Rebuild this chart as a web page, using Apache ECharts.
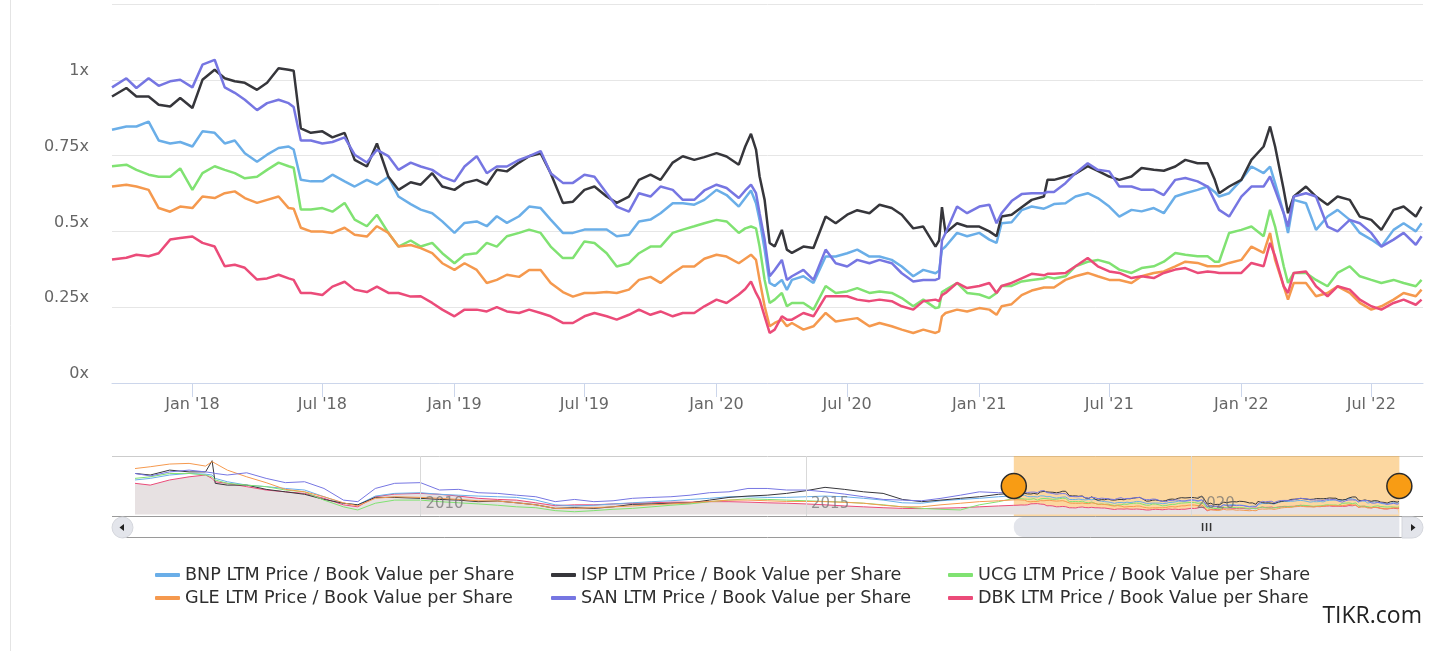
<!DOCTYPE html>
<html lang="en">
<head>
<meta charset="utf-8">
<title>LTM Price / Book Value per Share</title>
<script src="https://cdn.jsdelivr.net/npm/echarts@6/dist/echarts.min.js"></script>
<style>
  html, body { margin: 0; padding: 0; background: #fff; }
  #main { width: 1453px; height: 651px; }
</style>
</head>
<body>
<div id="main"></div>
<script type="text/javascript">

// visible window (semi-monthly readings, extra points around sharp moves)
var dates = [
  '2017-09-11','2017-10-01','2017-10-15','2017-11-01','2017-11-15','2017-12-01','2017-12-15',
  '2018-01-01','2018-01-15','2018-02-01','2018-02-15','2018-03-01','2018-03-15','2018-04-01','2018-04-15',
  '2018-05-01','2018-05-15','2018-05-22','2018-06-01','2018-06-15','2018-07-01','2018-07-15','2018-08-01',
  '2018-08-15','2018-09-01','2018-09-15','2018-10-01','2018-10-15','2018-11-01','2018-11-15','2018-12-01',
  '2018-12-15','2019-01-01','2019-01-15','2019-02-01','2019-02-15','2019-03-01','2019-03-15','2019-04-01',
  '2019-04-15','2019-05-01','2019-05-15','2019-06-01','2019-06-15','2019-07-01','2019-07-15','2019-08-01',
  '2019-08-15','2019-09-01','2019-09-15','2019-10-01','2019-10-15','2019-11-01','2019-11-15','2019-12-01',
  '2019-12-15','2020-01-01','2020-01-15','2020-02-01','2020-02-10','2020-02-18','2020-02-25','2020-03-01',
  '2020-03-08','2020-03-15','2020-03-22','2020-04-01','2020-04-08','2020-04-15','2020-05-01','2020-05-15',
  '2020-06-01','2020-06-15','2020-07-01','2020-07-15','2020-08-01','2020-08-15','2020-09-01','2020-09-15',
  '2020-10-01','2020-10-15','2020-11-01','2020-11-06','2020-11-10','2020-11-15','2020-12-01','2020-12-15',
  '2021-01-01','2021-01-15','2021-01-25','2021-02-01','2021-02-15','2021-03-01','2021-03-15','2021-04-01',
  '2021-04-06','2021-04-15','2021-05-01','2021-05-15','2021-06-01','2021-06-15','2021-07-01','2021-07-15',
  '2021-08-01','2021-08-15','2021-09-01','2021-09-15','2021-10-01','2021-10-15','2021-11-01','2021-11-15',
  '2021-11-25','2021-12-01','2021-12-15','2022-01-01','2022-01-15','2022-02-01','2022-02-10','2022-02-17',
  '2022-03-01','2022-03-07','2022-03-15','2022-04-01','2022-04-15','2022-05-01','2022-05-15','2022-06-01',
  '2022-06-15','2022-07-01','2022-07-15','2022-08-01','2022-08-15','2022-09-01','2022-09-09'
];
var bnp = [
  0.835,0.846,0.846,0.862,0.80,0.79,0.795,
  0.78,0.83,0.825,0.79,0.80,0.758,0.73,0.753,
  0.775,0.78,0.77,0.67,0.665,0.665,0.687,0.665,
  0.648,0.67,0.654,0.68,0.615,0.59,0.572,0.56,
  0.533,0.495,0.528,0.533,0.517,0.55,0.528,0.55,
  0.582,0.577,0.539,0.495,0.495,0.506,0.506,0.506,
  0.484,0.489,0.533,0.539,0.56,0.593,0.593,0.588,
  0.604,0.637,0.62,0.582,0.61,0.635,0.593,0.538,
  0.44,0.33,0.32,0.34,0.307,0.34,0.352,0.33,
  0.417,0.417,0.428,0.44,0.417,0.417,0.406,0.384,
  0.352,0.373,0.362,0.37,0.44,0.45,0.495,0.484,
  0.495,0.473,0.462,0.527,0.53,0.57,0.582,0.575,
  0.58,0.59,0.593,0.615,0.626,0.61,0.582,0.549,
  0.571,0.566,0.577,0.56,0.615,0.626,0.637,0.648,
  0.63,0.615,0.626,0.67,0.714,0.692,0.714,0.659,
  0.56,0.495,0.604,0.593,0.505,0.549,0.571,0.538,
  0.495,0.473,0.45,0.505,0.527,0.50,0.527
];
var isp = [
  0.945,0.973,0.945,0.945,0.918,0.912,0.94,
  0.907,1.0,1.033,1.005,0.995,0.99,0.967,0.99,
  1.038,1.033,1.03,0.84,0.825,0.83,0.81,0.825,
  0.736,0.714,0.79,0.68,0.637,0.662,0.654,0.692,
  0.648,0.637,0.66,0.67,0.654,0.703,0.698,0.727,
  0.748,0.758,0.692,0.594,0.598,0.637,0.648,0.615,
  0.594,0.615,0.67,0.687,0.67,0.727,0.748,0.736,
  0.745,0.758,0.747,0.72,0.78,0.822,0.77,0.681,
  0.604,0.462,0.45,0.505,0.44,0.429,0.45,0.445,
  0.549,0.527,0.555,0.57,0.56,0.588,0.577,0.555,
  0.51,0.516,0.45,0.47,0.58,0.495,0.527,0.516,
  0.516,0.50,0.484,0.549,0.555,0.58,0.604,0.615,
  0.67,0.67,0.68,0.69,0.715,0.70,0.681,0.67,
  0.681,0.709,0.703,0.70,0.714,0.736,0.725,0.725,
  0.67,0.626,0.648,0.67,0.736,0.78,0.846,0.78,
  0.637,0.56,0.615,0.648,0.615,0.588,0.615,0.604,
  0.549,0.538,0.505,0.571,0.582,0.549,0.582
];
var ucg = [
  0.715,0.72,0.703,0.687,0.68,0.68,0.708,
  0.637,0.692,0.715,0.703,0.692,0.675,0.68,0.703,
  0.727,0.715,0.71,0.572,0.572,0.577,0.565,0.594,
  0.539,0.517,0.555,0.495,0.45,0.47,0.45,0.462,
  0.428,0.395,0.423,0.428,0.462,0.45,0.484,0.495,
  0.506,0.495,0.45,0.412,0.412,0.467,0.462,0.428,
  0.384,0.395,0.428,0.45,0.45,0.495,0.506,0.517,
  0.527,0.538,0.533,0.495,0.51,0.516,0.51,0.45,
  0.34,0.264,0.275,0.297,0.253,0.264,0.264,0.242,
  0.32,0.297,0.302,0.313,0.297,0.302,0.297,0.28,
  0.253,0.275,0.247,0.25,0.30,0.307,0.33,0.297,
  0.292,0.28,0.297,0.32,0.32,0.335,0.34,0.345,
  0.35,0.345,0.352,0.385,0.40,0.406,0.396,0.374,
  0.363,0.379,0.385,0.40,0.429,0.423,0.418,0.418,
  0.40,0.40,0.495,0.505,0.516,0.484,0.571,0.516,
  0.385,0.33,0.363,0.363,0.34,0.319,0.363,0.385,
  0.352,0.34,0.33,0.34,0.33,0.319,0.34
];
var gle = [
  0.648,0.654,0.648,0.637,0.577,0.565,0.582,
  0.577,0.615,0.61,0.626,0.632,0.61,0.594,0.604,
  0.615,0.577,0.575,0.512,0.50,0.50,0.495,0.512,
  0.489,0.483,0.517,0.495,0.45,0.455,0.445,0.428,
  0.395,0.373,0.395,0.373,0.33,0.34,0.357,0.35,
  0.373,0.373,0.33,0.30,0.285,0.297,0.297,0.30,
  0.297,0.308,0.34,0.35,0.33,0.362,0.384,0.384,
  0.41,0.423,0.417,0.395,0.41,0.423,0.406,0.34,
  0.253,0.187,0.198,0.209,0.187,0.198,0.176,0.187,
  0.231,0.203,0.209,0.214,0.187,0.198,0.187,0.176,
  0.165,0.176,0.165,0.17,0.22,0.231,0.242,0.236,
  0.247,0.242,0.225,0.253,0.26,0.29,0.305,0.315,
  0.315,0.315,0.34,0.352,0.363,0.352,0.34,0.34,
  0.33,0.352,0.363,0.368,0.385,0.40,0.396,0.385,
  0.385,0.385,0.396,0.406,0.45,0.429,0.495,0.406,
  0.319,0.275,0.33,0.33,0.286,0.297,0.319,0.297,
  0.264,0.242,0.253,0.275,0.297,0.286,0.308
];
var san = [
  0.975,1.005,0.973,1.005,0.98,0.995,1.0,
  0.975,1.05,1.066,0.975,0.957,0.934,0.90,0.923,
  0.934,0.923,0.91,0.80,0.80,0.79,0.795,0.81,
  0.753,0.727,0.769,0.748,0.703,0.727,0.714,0.703,
  0.68,0.665,0.714,0.748,0.692,0.714,0.714,0.736,
  0.748,0.765,0.692,0.66,0.66,0.687,0.68,0.626,
  0.582,0.565,0.626,0.615,0.648,0.637,0.604,0.604,
  0.635,0.654,0.643,0.61,0.635,0.654,0.626,0.56,
  0.473,0.352,0.373,0.406,0.34,0.352,0.373,0.34,
  0.44,0.395,0.384,0.406,0.395,0.406,0.395,0.362,
  0.335,0.34,0.34,0.345,0.47,0.495,0.582,0.56,
  0.582,0.588,0.527,0.56,0.60,0.623,0.626,0.626,
  0.63,0.63,0.659,0.692,0.725,0.703,0.698,0.648,
  0.648,0.637,0.637,0.62,0.67,0.676,0.665,0.648,
  0.60,0.571,0.549,0.615,0.648,0.648,0.681,0.637,
  0.56,0.516,0.615,0.626,0.615,0.516,0.50,0.538,
  0.527,0.495,0.45,0.473,0.495,0.456,0.484
];
var dbk = [
  0.407,0.413,0.423,0.418,0.428,0.473,0.478,
  0.483,0.462,0.45,0.385,0.39,0.38,0.341,0.345,
  0.357,0.345,0.34,0.297,0.297,0.29,0.318,0.334,
  0.308,0.30,0.318,0.297,0.297,0.285,0.286,0.264,
  0.242,0.22,0.242,0.242,0.236,0.25,0.236,0.231,
  0.242,0.231,0.22,0.198,0.198,0.22,0.231,0.22,
  0.209,0.225,0.242,0.225,0.236,0.22,0.231,0.231,
  0.253,0.275,0.264,0.292,0.31,0.335,0.297,0.275,
  0.22,0.165,0.176,0.22,0.209,0.209,0.231,0.22,
  0.286,0.286,0.286,0.275,0.27,0.275,0.27,0.253,
  0.242,0.27,0.275,0.27,0.29,0.297,0.33,0.313,
  0.32,0.33,0.297,0.32,0.33,0.345,0.36,0.355,
  0.36,0.36,0.363,0.385,0.412,0.385,0.368,0.363,
  0.346,0.352,0.346,0.363,0.374,0.379,0.363,0.368,
  0.365,0.363,0.363,0.363,0.396,0.385,0.462,0.418,
  0.319,0.297,0.363,0.368,0.319,0.286,0.319,0.308,
  0.275,0.253,0.242,0.264,0.275,0.258,0.275
];

// longer history, only shown in the navigator strip (quarterly readings)
var histDates = [
  '2006-04-20','2006-07-01','2006-10-01','2007-01-01','2007-03-20','2007-04-20','2007-05-05','2007-07-01','2007-10-01',
  '2008-01-01','2008-04-01','2008-07-01','2008-10-01','2009-01-01','2009-03-10','2009-06-01','2009-09-01',
  '2010-01-01','2010-04-01','2010-07-01','2010-10-01','2011-01-01','2011-04-01','2011-07-01','2011-10-01',
  '2012-01-01','2012-04-01','2012-07-01','2012-10-01','2013-01-01','2013-04-01','2013-07-01','2013-10-01',
  '2014-01-01','2014-04-01','2014-07-01','2014-10-01','2015-01-01','2015-04-01','2015-07-01','2015-10-01',
  '2016-01-01','2016-04-01','2016-07-01','2016-10-01','2017-01-01','2017-04-01','2017-07-01'
];
var bnpHist = [1.54,1.61,1.76,1.83,1.80,1.76,1.61,1.46,1.31, 1.24,1.16,1.09,0.79,0.50,0.43,0.82,0.94,
  0.97,0.90,0.86,0.82,0.79,0.76,0.64,0.43, 0.38,0.41,0.47,0.52,0.57,0.61,0.67,0.72,
  0.79,0.79,0.76,0.76,0.79,0.82,0.79,0.72, 0.64,0.52,0.50,0.61,0.67,0.72,0.79];
var ispHist = [1.83,1.76,1.98,1.90,1.90,2.40,1.39,1.31,1.31, 1.12,1.01,0.90,0.67,0.50,0.43,0.76,0.76,
  0.72,0.67,0.64,0.57,0.60,0.52,0.43,0.27, 0.30,0.27,0.34,0.45,0.47,0.50,0.52,0.64,
  0.76,0.82,0.86,0.94,1.06,1.21,1.12,1.01, 0.94,0.67,0.57,0.64,0.72,0.79,0.90];
var ucgHist = [1.61,1.68,1.83,1.83,1.76,1.68,1.54,1.39,1.31, 1.24,1.09,1.01,0.64,0.34,0.20,0.50,0.64,
  0.64,0.57,0.52,0.47,0.41,0.34,0.30,0.17, 0.12,0.17,0.23,0.27,0.34,0.41,0.47,0.57,
  0.64,0.70,0.67,0.64,0.61,0.58,0.55,0.50, 0.43,0.34,0.27,0.23,0.20,0.43,0.57];
var gleHist = [2.05,2.13,2.25,2.28,2.16,2.36,2.28,1.98,1.68, 1.42,1.12,1.01,0.79,0.52,0.38,0.72,0.79,
  0.76,0.72,0.67,0.61,0.60,0.52,0.43,0.27, 0.27,0.30,0.34,0.38,0.43,0.47,0.52,0.58,
  0.64,0.64,0.61,0.58,0.58,0.57,0.54,0.50, 0.41,0.34,0.34,0.43,0.50,0.57,0.61];
var sanHist = [1.83,1.72,1.90,1.98,1.90,1.86,1.83,1.76,1.86, 1.61,1.42,1.46,1.16,0.64,0.57,1.16,1.39,
  1.42,1.09,1.12,0.97,0.94,0.86,0.79,0.57, 0.67,0.57,0.61,0.72,0.76,0.79,0.86,0.97,
  1.01,1.16,1.16,1.09,1.09,1.01,0.91,0.79, 0.67,0.64,0.61,0.72,0.86,1.01,0.97];
var dbkHist = [1.39,1.31,1.54,1.68,1.76,1.61,1.46,1.39,1.24, 1.09,1.01,0.94,0.72,0.43,0.34,0.79,0.91,
  0.94,0.90,0.82,0.72,0.67,0.64,0.52,0.39, 0.43,0.43,0.47,0.50,0.52,0.55,0.55,0.57,
  0.57,0.55,0.52,0.50,0.47,0.43,0.38,0.34, 0.30,0.27,0.26,0.28,0.30,0.34,0.38];

var names = [
  'BNP LTM Price / Book Value per Share',
  'ISP LTM Price / Book Value per Share',
  'UCG LTM Price / Book Value per Share',
  'GLE LTM Price / Book Value per Share',
  'SAN LTM Price / Book Value per Share',
  'DBK LTM Price / Book Value per Share'
];
var colors = ['#6aaee8', '#36363b', '#80e272', '#f5994e', '#7676e2', '#eb4b79'];

var xTickDates = ['2018-01-01','2018-07-01','2019-01-01','2019-07-01','2020-01-01',
                  '2020-07-01','2021-01-01','2021-07-01','2022-01-01','2022-07-01'];
var xTickLabels = ["Jan '18","Jul '18","Jan '19","Jul '19","Jan '20",
                   "Jul '20","Jan '21","Jul '21","Jan '22","Jul '22"];
var yTickLabels = ['0x', '0.25x', '0.5x', '0.75x', '1x', '1.25x'];
var navTickDates = ['2010-01-01', '2015-01-01', '2020-01-01'];
var navTickLabels = ['2010', '2015', '2020'];

var viewStart = '2017-09-11', viewEnd = '2022-09-11';
var navStart = '2006-01-01', navEnd = '2023-01-01';
var navYMin = -0.07, navYMax = 2.61;

var main = [bnp, isp, ucg, gle, san, dbk];
var hist = [bnpHist, ispHist, ucgHist, gleHist, sanHist, dbkHist];

var axisFont = 'DejaVu Sans';

function ts(d) { return +echarts.time.parse(d); }
var xTickTs = xTickDates.map(ts);
var navTickTs = navTickDates.map(ts);

var myChart = echarts.init(document.getElementById('main'));

var series = [];
// main lines
main.forEach(function (arr, k) {
  series.push({
    name: names[k],
    type: 'line',
    xAxisIndex: 0,
    yAxisIndex: 0,
    showSymbol: false,
    lineStyle: { width: 2.5, color: colors[k] },
    itemStyle: { color: colors[k] },
    z: 3,
    data: dates.map(function (d, i) { return [ts(d), arr[i]]; })
  });
});
// navigator lines (history + visible window)
var allDates = histDates.concat(dates);
main.forEach(function (arr, k) {
  var vals = hist[k].concat(arr);
  var s = {
    name: names[k],
    type: 'line',
    xAxisIndex: 1,
    yAxisIndex: 1,
    showSymbol: false,
    silent: true,
    lineStyle: { width: 1, color: colors[k] },
    itemStyle: { color: colors[k] },
    z: 2,
    data: allDates.map(function (d, i) { return [ts(d), vals[i]]; })
  };
  if (k === 5) {
    s.areaStyle = { color: '#e7e1e2', opacity: 1 };
    s.z = 1;
    s.markLine = {
      silent: true,
      symbol: ['none', 'none'],
      label: { show: false },
      lineStyle: { color: '#d9d9d9', width: 1, type: 'solid' },
      data: navTickTs.map(function (t) { return { xAxis: t }; })
    };
  }
  series.push(s);
});
// selected range mask + handles
var handleY = (navYMin + navYMax) / 2;
series.push({
  type: 'scatter',
  xAxisIndex: 1,
  yAxisIndex: 1,
  silent: true,
  z: 10,
  symbolSize: 25,
  itemStyle: { color: '#f89c14', borderColor: '#2b2b2b', borderWidth: 1.5, opacity: 1 },
  markArea: {
    silent: true,
    itemStyle: { color: 'rgba(248,160,28,0.42)' },
    data: [[{ xAxis: ts(viewStart) }, { xAxis: ts(viewEnd) }]]
  },
  data: [[ts(viewStart), handleY], [ts(viewEnd), handleY]]
});

var legendPos = [[155, 566], [551, 566], [948, 566], [155, 589], [551, 589], [948, 589]];
var legends = names.map(function (n, k) {
  return {
    data: [n],
    left: legendPos[k][0],
    top: legendPos[k][1],
    padding: 0,
    icon: 'roundRect',
    itemWidth: 25,
    itemHeight: 4,
    selectedMode: false,
    textStyle: { fontFamily: axisFont, fontSize: 17.6, color: '#2e2e2e' }
  };
});

var option = {
  animation: false,
  color: colors,
  textStyle: { fontFamily: axisFont },
  legend: legends,
  grid: [
    { left: 112, right: 30, top: 4, height: 379 },
    { left: 112, right: 30, top: 456, height: 60 }
  ],
  xAxis: [
    {
      type: 'value',
      gridIndex: 0,
      min: ts(viewStart),
      max: ts(viewEnd),
      axisLine: { lineStyle: { color: '#ccd6eb', width: 1 } },
      axisTick: { length: 14, lineStyle: { color: '#ccd6eb' }, customValues: xTickTs },
      axisLabel: {
        customValues: xTickTs,
        margin: 14,
        fontSize: 16,
        fontFamily: axisFont,
        color: '#666',
        formatter: function (v) {
          var i = xTickTs.indexOf(+v);
          return i >= 0 ? xTickLabels[i] : '';
        }
      },
      splitLine: { show: false }
    },
    {
      type: 'value',
      gridIndex: 1,
      z: 6,
      min: ts(navStart),
      max: ts(navEnd),
      axisLine: { show: false },
      axisTick: { show: false },
      splitLine: { show: false },
      axisLabel: {
        inside: true,
        customValues: navTickTs,
        margin: 4,
        align: 'left',
        verticalAlign: 'bottom',
        padding: [0, 0, 0, 5],
        fontSize: 15,
        fontFamily: axisFont,
        color: 'rgba(110,110,110,0.7)',
        formatter: function (v) {
          var i = navTickTs.indexOf(+v);
          return i >= 0 ? navTickLabels[i] : '';
        }
      }
    }
  ],
  yAxis: [
    {
      type: 'value',
      gridIndex: 0,
      min: 0,
      max: 1.25,
      interval: 0.25,
      axisLine: { show: false },
      axisTick: { show: false },
      splitLine: { lineStyle: { color: '#e6e6e6' } },
      axisLabel: {
        showMaxLabel: false,
        margin: 23,
        fontSize: 16,
        fontFamily: axisFont,
        color: '#666',
        verticalAlign: 'bottom',
        padding: [0, 0, 1, 0],
        formatter: function (v) { return yTickLabels[Math.round(v / 0.25)]; }
      }
    },
    {
      type: 'value',
      gridIndex: 1,
      min: navYMin,
      max: navYMax,
      show: false
    }
  ],
  graphic: [
    { type: 'line', id: 'leftBorder', silent: true, shape: { x1: 10.5, y1: 0, x2: 10.5, y2: 651 },
      style: { stroke: '#e4e4e4', lineWidth: 1 } },
    { type: 'line', id: 'navTop', silent: true, shape: { x1: 112, y1: 456.5, x2: 1423, y2: 456.5 },
      style: { stroke: '#cccccc', lineWidth: 1 } },
    { type: 'text', id: 'brand', silent: true, right: 31, top: 605,
      style: { text: 'TIKR.com', fontFamily: 'Open Sans', fontSize: 23, fill: '#222' } }
  ],
  series: series
};

myChart.setOption(option);

// scrollbar under the navigator, following the selected range
var p0 = myChart.convertToPixel({ xAxisIndex: 1 }, ts(viewStart));
var p1 = myChart.convertToPixel({ xAxisIndex: 1 }, ts(viewEnd));
var mid = (p0 + p1) / 2;
myChart.setOption({
  graphic: [
    { type: 'line', id: 'navBottom', silent: true, z: 20, shape: { x1: 112, y1: 516.5, x2: 1423, y2: 516.5 },
      style: { stroke: '#9a9a9a', lineWidth: 1 } },
    { type: 'line', id: 'sbBottom', silent: true, z: 20, shape: { x1: 122, y1: 537.5, x2: 1413, y2: 537.5 },
      style: { stroke: '#9a9a9a', lineWidth: 1 } },
    { type: 'rect', id: 'sbThumb', silent: true, z: 21,
      shape: { x: p0, y: 517, width: p1 - p0, height: 20, r: [9, 0, 0, 9] },
      style: { fill: '#e3e5eb' } },
    { type: 'line', id: 'grip1', silent: true, z: 22, shape: { x1: mid - 4, y1: 523, x2: mid - 4, y2: 531 },
      style: { stroke: '#333', lineWidth: 1.5 } },
    { type: 'line', id: 'grip2', silent: true, z: 22, shape: { x1: mid, y1: 523, x2: mid, y2: 531 },
      style: { stroke: '#333', lineWidth: 1.5 } },
    { type: 'line', id: 'grip3', silent: true, z: 22, shape: { x1: mid + 4, y1: 523, x2: mid + 4, y2: 531 },
      style: { stroke: '#333', lineWidth: 1.5 } },
    { type: 'rect', id: 'btnL', silent: true, z: 21, shape: { x: 112, y: 517, width: 21, height: 21, r: 10.5 },
      style: { fill: '#e3e5eb', stroke: '#d4d6dc', lineWidth: 1 } },
    { type: 'polygon', id: 'arrL', silent: true, z: 22, shape: { points: [[119.5, 527.5], [124, 524], [124, 531]] },
      style: { fill: '#222' } },
    { type: 'rect', id: 'btnR', silent: true, z: 21, shape: { x: 1402, y: 517, width: 21, height: 21, r: [0, 10.5, 10.5, 0] },
      style: { fill: '#e3e5eb', stroke: '#d4d6dc', lineWidth: 1 } },
    { type: 'polygon', id: 'arrR', silent: true, z: 22, shape: { points: [[1415.5, 527.5], [1411, 524], [1411, 531]] },
      style: { fill: '#222' } }
  ]
});
</script>
</body>
</html>
